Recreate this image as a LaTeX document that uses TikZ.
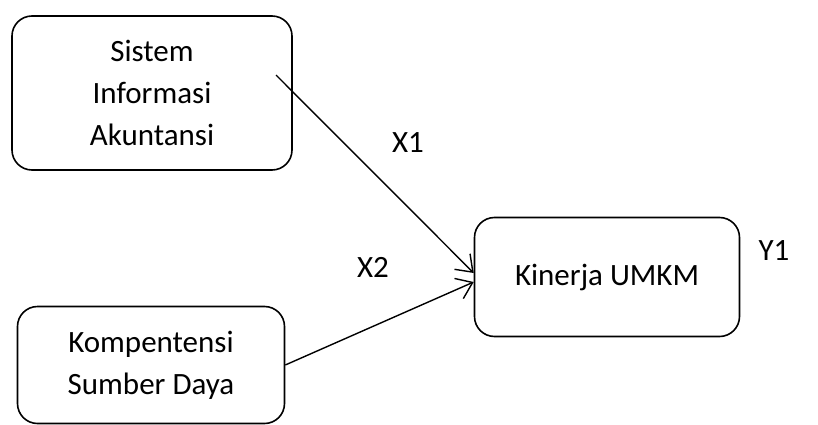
\documentclass[tikz,border=0pt]{standalone}
\usepackage{fontspec}
\setmainfont{Carlito}
\usetikzlibrary{calc,arrows.meta}

\begin{document}
\begin{tikzpicture}[x=1pt,y=1pt,
    varbox/.style={draw,line width=1.6pt,rounded corners=20pt,align=center,
                   font=\fontsize{31}{42}\selectfont},
    lbl/.style={font=\fontsize{31}{42}\selectfont},
    link/.style={line width=1.4pt,-{Straight Barb[length=15pt,width=22pt,line width=1.4pt]}}]
                      \useasboundingbox (0,0) rectangle (818,424);
                      \node[varbox,minimum width=280pt,minimum height=154pt] (sia) at (152,331) {Sistem\\Informasi\\Akuntansi};
                      \node[varbox,minimum width=267pt,minimum height=117pt] (ksd) at (151,59) {Kompentensi\\Sumber Daya};
                      \node[varbox,minimum width=265pt,minimum height=119pt] (umkm) at (607,147) {Kinerja UMKM};
                      \coordinate (siaout) at (276,349);
                      \draw[link] (siaout) -- ($(umkm.west)+(0,4)$);
                      \draw[link] (ksd.east) -- ($(umkm.west)+(0,-5)$);
                      \node[lbl] (xa) at (408,281) {X1};
                      \node[lbl] (xb) at (373,157) {X2};
                      \node[lbl] (ya) at (774,173) {Y1};
                  \end{tikzpicture}
\end{document}
